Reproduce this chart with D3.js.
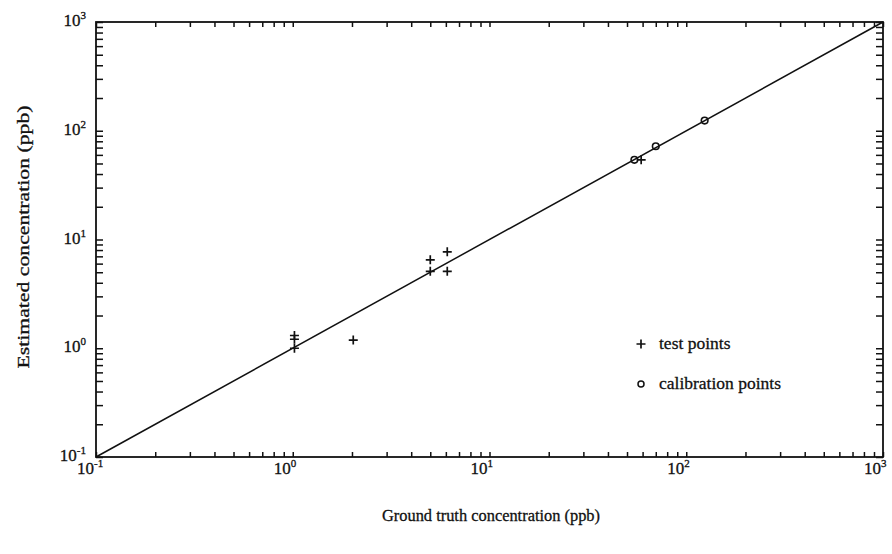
<!DOCTYPE html>
<html>
<head>
<meta charset="utf-8">
<script src="https://cdn.jsdelivr.net/npm/d3@7"></script>
<style>
  html, body { margin: 0; padding: 0; background: #fff; }
  svg { display: block; }
  text { font-family: "Liberation Serif", "DejaVu Serif", serif; fill: #111; stroke: #111; stroke-width: 0.3; }
</style>
</head>
<body>
<svg id="chart" width="892" height="554"></svg>
<script>
// Concentrations in ppb
const testTruth     = [1.02, 1.02, 1.02, 2.03, 5.0, 5.0, 6.1, 6.1, 59];
const testEstimate  = [1.0, 1.21, 1.31, 1.19, 5.1, 6.5, 5.1, 7.7, 54];
const calTruth      = [54.5, 70, 124];
const calEstimate   = [54, 72, 124];
const decadeExponents = [-1, 0, 1, 2, 3];
const legendLabels  = ["test points", "calibration points"];
const xTitle = "Ground truth concentration (ppb)";
const yTitle = "Estimated concentration (ppb)";

const svg = d3.select("#chart");
const plotL = 96, plotR = 883, plotT = 22, plotB = 457;

const x = d3.scaleLog().domain([0.1, 1000]).range([plotL, plotR]);
const y = d3.scaleLog().domain([0.1, 1000]).range([plotB, plotT]);

// all tick positions: 1..9 per decade plus the last decade
const tickVals = [];
decadeExponents.slice(0, -1).forEach(e => {
  for (let m = 1; m <= 9; m++) tickVals.push(m * Math.pow(10, e));
});
tickVals.push(1000);

const ink = "#111";

// inward ticks on all four sides, drawn via d3 axes
const tickStroke = g => {
  g.select(".domain").remove();
  g.selectAll(".tick line").attr("stroke", ink).attr("stroke-width", 1.5);
  g.selectAll(".tick text").remove();
};
svg.append("g").attr("transform", `translate(0,${plotB})`)
  .call(d3.axisTop(x).tickValues(tickVals).tickSize(5)).call(tickStroke);
svg.append("g").attr("transform", `translate(0,${plotT})`)
  .call(d3.axisBottom(x).tickValues(tickVals).tickSize(5)).call(tickStroke);
svg.append("g").attr("transform", `translate(${plotL},0)`)
  .call(d3.axisRight(y).tickValues(tickVals).tickSize(7)).call(tickStroke);
svg.append("g").attr("transform", `translate(${plotR},0)`)
  .call(d3.axisLeft(y).tickValues(tickVals).tickSize(7)).call(tickStroke);

// frame
svg.append("rect")
  .attr("x", plotL).attr("y", plotT)
  .attr("width", plotR - plotL).attr("height", plotB - plotT)
  .attr("fill", "none").attr("stroke", ink).attr("stroke-width", 1.8);

// identity line
svg.append("line")
  .attr("x1", x(0.1)).attr("y1", y(0.1))
  .attr("x2", x(1000)).attr("y2", y(1000))
  .attr("stroke", ink).attr("stroke-width", 1.5);

// decade labels
const fs = 17, sup = 11;
decadeExponents.forEach(e => {
  const v = Math.pow(10, e);
  // x axis
  const tx = svg.append("text")
    .attr("x", x(v) - 19).attr("y", plotB + 17)
    .attr("font-size", fs);
  tx.append("tspan").text("10");
  tx.append("tspan").attr("font-size", sup).attr("dy", -7).text(e);
  // y axis
  const ty = svg.append("text")
    .attr("text-anchor", "end")
    .attr("x", plotL - 10).attr("y", y(v) + 4)
    .attr("font-size", fs);
  ty.append("tspan").text("10");
  ty.append("tspan").attr("font-size", sup).attr("dy", -7).text(e);
});

// axis titles
svg.append("text")
  .attr("x", 491).attr("y", 521)
  .attr("text-anchor", "middle").attr("font-size", 17)
  .attr("textLength", 218).attr("lengthAdjust", "spacingAndGlyphs")
  .text(xTitle);
svg.append("text")
  .attr("transform", `translate(29,237) rotate(-90)`)
  .attr("text-anchor", "middle").attr("font-size", 17)
  .attr("textLength", 263).attr("lengthAdjust", "spacingAndGlyphs")
  .text(yTitle);

// markers
const plus = (g, cx, cy) => {
  const h = 4.5;
  g.append("path")
    .attr("d", `M${cx - h},${cy}H${cx + h}M${cx},${cy - h}V${cy + h}`)
    .attr("stroke", ink).attr("stroke-width", 1.7).attr("fill", "none");
};
const pts = svg.append("g");
testTruth.forEach((t, i) => plus(pts, x(t), y(testEstimate[i])));
pts.selectAll("circle").data(calTruth).join("circle")
  .attr("cx", d => x(d)).attr("cy", (d, i) => y(calEstimate[i]))
  .attr("r", 3.3).attr("fill", "none").attr("stroke", ink).attr("stroke-width", 1.6);

// legend
const lg = svg.append("g");
plus(lg, 641, 344);
lg.append("circle").attr("cx", 641).attr("cy", 384).attr("r", 3)
  .attr("fill", "none").attr("stroke", ink).attr("stroke-width", 1.5);
lg.append("text").attr("x", 659).attr("y", 349).attr("font-size", 17.5).text(legendLabels[0]);
lg.append("text").attr("x", 659).attr("y", 389).attr("font-size", 17.5).text(legendLabels[1]);
</script>
</body>
</html>
